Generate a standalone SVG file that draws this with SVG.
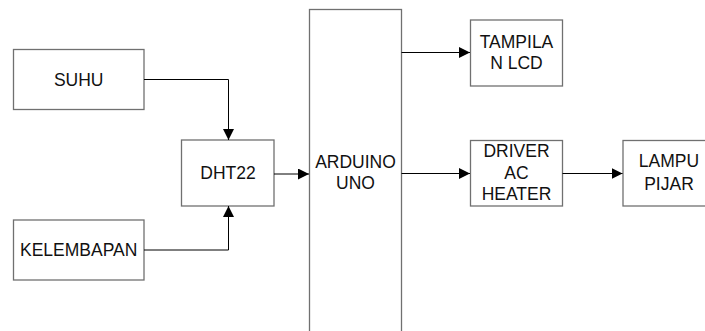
<svg xmlns="http://www.w3.org/2000/svg" width="705" height="331" viewBox="0 0 705 331">
<style>
.box{fill:#fff;stroke:#707070;stroke-width:1.3}
.lbl{font-family:"Liberation Sans",Arial,sans-serif;font-size:17.5px;fill:#111;text-anchor:middle}
.con{fill:none;stroke:#000;stroke-width:1}
</style>
<defs>
<marker id="arr" markerUnits="userSpaceOnUse" markerWidth="12" markerHeight="11" refX="11" refY="5.5" orient="auto">
<path d="M0,0 L11,5.5 L0,11 z" fill="#000"/>
</marker>
</defs>
<rect width="705" height="331" fill="#fff"/>
<g id="suhu"><rect class="box" x="13.5" y="49.5" width="130.5" height="60"/><text class="lbl" x="78.7" y="86">SUHU</text></g>
<g id="dht22"><rect class="box" x="181.5" y="140" width="92.5" height="66"/><text class="lbl" x="228" y="179.3">DHT22</text></g>
<g id="kelembapan"><rect class="box" x="13.5" y="220" width="130.5" height="60"/><text class="lbl" x="78.7" y="256">KELEMBAPAN</text></g>
<g id="arduino"><rect class="box" x="309.5" y="9.5" width="92" height="340"/><text class="lbl" x="355.5" y="168.3">ARDUINO</text><text class="lbl" x="355.5" y="189.3">UNO</text></g>
<g id="lcd"><rect class="box" x="470.5" y="20" width="92" height="66"/><text class="lbl" x="516.5" y="48.3">TAMPILA</text><text class="lbl" x="516.5" y="69.3">N LCD</text></g>
<g id="driver"><rect class="box" x="470.5" y="140.5" width="92" height="65.5"/><text class="lbl" x="516.5" y="157.3">DRIVER</text><text class="lbl" x="516.5" y="178.8">AC</text><text class="lbl" x="516.5" y="200">HEATER</text></g>
<g id="lampu"><rect class="box" x="623" y="140.5" width="92" height="65.5"/><text class="lbl" x="669" y="167.3">LAMPU</text><text class="lbl" x="669" y="190">PIJAR</text></g>
<g id="connectors">
<path class="con" d="M144,79.5 H228.5 V140" marker-end="url(#arr)"/>
<path class="con" d="M144,250 H228.5 V206" marker-end="url(#arr)"/>
<path class="con" d="M274,174 H309" marker-end="url(#arr)"/>
<path class="con" d="M401.5,52.5 H470" marker-end="url(#arr)"/>
<path class="con" d="M401.5,173.5 H470" marker-end="url(#arr)"/>
<path class="con" d="M562.5,173.5 H622.5" marker-end="url(#arr)"/>
</g>
</svg>
